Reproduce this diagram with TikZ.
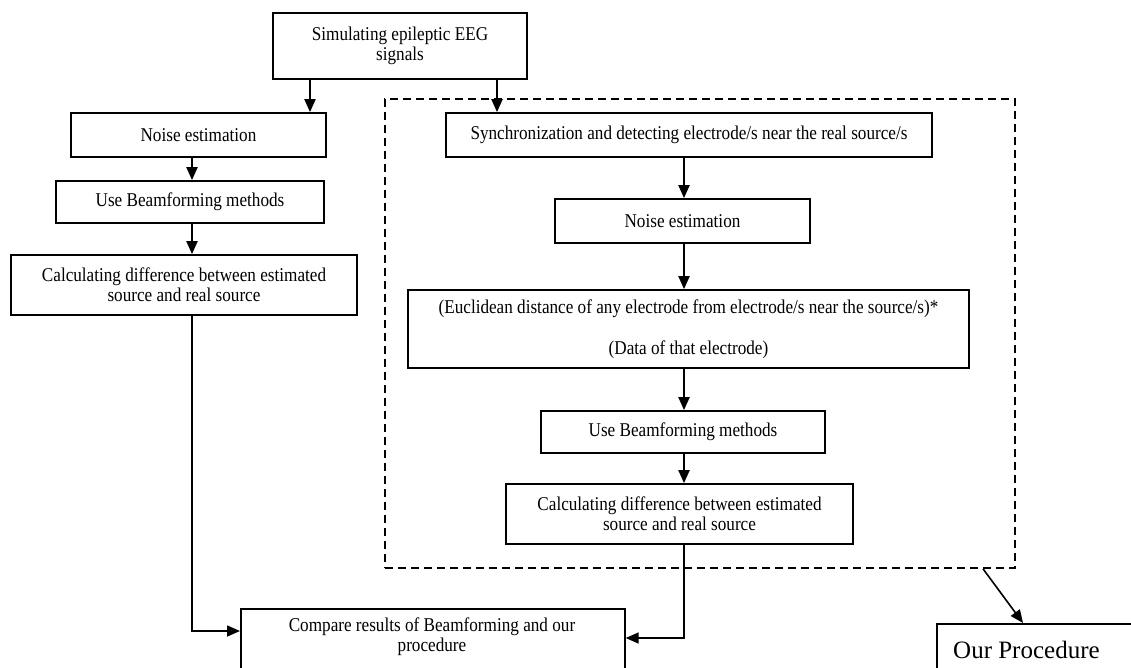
\documentclass[tikz,border=0pt]{standalone}
\usepackage{fontspec}
\setmainfont{Liberation Serif}[FakeStretch=0.88]
\newfontfamily\ourfont{Liberation Serif}
\usetikzlibrary{arrows.meta}
\begin{document}
\begin{tikzpicture}[x=1pt,y=-1pt,
  box/.style={draw, line width=1.7pt, inner sep=0pt, align=center, fill=white,
    font=\fontsize{19.5}{20}\selectfont},
  txt/.style={inner sep=0pt, align=center, font=\fontsize{19.5}{20}\selectfont},
  arr/.style={line width=2pt, -{Triangle[length=13pt,width=11pt]}},
  thinarr/.style={line width=1.6pt, -{Triangle[length=13pt,width=11pt]}},
  procbox/.style={draw, line width=1.6pt, dash pattern=on 8pt off 5pt, inner sep=0pt}]
\useasboundingbox (0,0) rectangle (1131,668);
\clip (0,0) rectangle (1131,668);
\fill[white] (0,0) rectangle (1131,668);

% x positions of vertical connectors
\coordinate (xa) at (310,0);
\coordinate (xb) at (497,0);
\coordinate (xl) at (192,0);
\coordinate (xr) at (684,0);
\coordinate (xp) at (983,0);
\coordinate (xq) at (1023,0);

% dashed procedure frame
\node[procbox, minimum width=630pt, minimum height=469pt] (proc) at (700,333.5) {};

% top
\node[box, minimum width=254pt, minimum height=66pt] (top) at (400,46)
  {Simulating epileptic EEG\\signals};

% left column
\node[box, minimum width=255pt, minimum height=44pt] (lnoise) at (198.5,135) {Noise estimation};
\node[box, minimum width=268pt, minimum height=42pt] (lbeam) at (190,202) {Use Beamforming methods};
\node[box, minimum width=346pt, minimum height=60pt] (lcalc) at (184,285)
  {Calculating difference between estimated\\source and real source};

% right column
\node[box, minimum width=486pt, minimum height=44pt] (sync) at (689,135)
  {Synchronization and detecting electrode/s near the real source/s};
\node[box, minimum width=255pt, minimum height=44pt] (rnoise) at (682.5,221) {Noise estimation};
\node[box, minimum width=561pt, minimum height=78pt] (eucl) at (688.5,329)
  {(Euclidean distance of any electrode from electrode/s near the source/s)*\\[21pt](Data of that electrode)};
\node[box, minimum width=284pt, minimum height=42pt] (rbeam) at (683,432) {Use Beamforming methods};
\node[box, minimum width=347pt, minimum height=60pt] (rcalc) at (679.5,514)
  {Calculating difference between estimated\\source and real source};

% compare
\node[box, anchor=north west, minimum width=384pt, minimum height=100pt] (cmp) at (240,608) {};
\node[txt] (cmptxt) at (432,637) {Compare results of Beamforming and our\\procedure};

% our procedure
\node[box, anchor=north west, minimum width=220pt, minimum height=100pt] (our) at (936,623) {};
\node[txt, anchor=west, font=\ourfont\fontsize{25}{28}\selectfont] (ourtxt) at (953,650) {Our Procedure};

% connectors
\draw[arr] (top.south -| xa) -- (lnoise.north -| xa);
\draw[arr] (top.south -| xb) -- (sync.north -| xb);
\draw[arr] (lnoise.south -| xl) -- (lbeam.north -| xl);
\draw[arr] (lbeam.south -| xl) -- (lcalc.north -| xl);
\draw[arr] (sync.south -| xr) -- (rnoise.north -| xr);
\draw[arr] (rnoise.south -| xr) -- (eucl.north -| xr);
\draw[arr] (eucl.south -| xr) -- (rbeam.north -| xr);
\draw[arr] (rbeam.south -| xr) -- (rcalc.north -| xr);
\draw[thinarr] (lcalc.south -| xl) |- ([yshift=-23pt]cmp.north west);
\draw[thinarr] (rcalc.south -| xr) |- ([yshift=-30pt]cmp.north east);
\draw[thinarr] (proc.south -| xp) -- (our.north -| xq);
\end{tikzpicture}
\end{document}
